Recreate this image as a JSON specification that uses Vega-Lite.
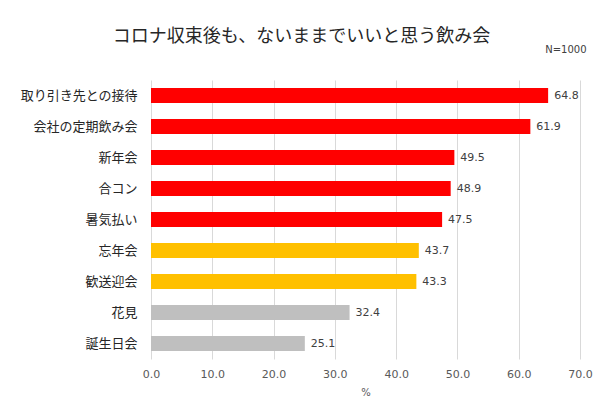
{
  "$schema": "https://vega.github.io/schema/vega-lite/v6.json",
  "autosize": {"type": "none"},
  "width": 429,
  "height": 279,
  "padding": {"left": 151, "top": 80, "right": 20, "bottom": 60},
  "background": "#FFFFFF",
  "title": {
    "text": "コロナ収束後も、ないままでいいと思う飲み会",
    "font": "Noto Sans CJK JP",
    "fontSize": 18,
    "fontWeight": "normal",
    "color": "#262626",
    "anchor": "middle",
    "frame": "group",
    "dx": -64,
    "offset": -2
  },
  "config": {
    "view": {"stroke": "transparent"},
    "axis": {"labelFont": "DejaVu Sans", "titleFont": "DejaVu Sans"}
  },
  "data": {
    "values": [
      {"item": "取り引き先との接待", "pct": 64.8, "group": "高"},
      {"item": "会社の定期飲み会", "pct": 61.9, "group": "高"},
      {"item": "新年会", "pct": 49.5, "group": "高"},
      {"item": "合コン", "pct": 48.9, "group": "高"},
      {"item": "暑気払い", "pct": 47.5, "group": "高"},
      {"item": "忘年会", "pct": 43.7, "group": "中"},
      {"item": "歓送迎会", "pct": 43.3, "group": "中"},
      {"item": "花見", "pct": 32.4, "group": "低"},
      {"item": "誕生日会", "pct": 25.1, "group": "低"}
    ]
  },
  "encoding": {
    "y": {
      "field": "item",
      "type": "nominal",
      "sort": null,
      "scale": {"paddingInner": 0.52, "paddingOuter": 0.26},
      "axis": {
        "title": null,
        "domain": false,
        "ticks": false,
        "labelFont": "Noto Sans CJK JP",
        "labelFontSize": 13,
        "labelColor": "#262626",
        "labelPadding": 14
      }
    }
  },
  "layer": [
    {
      "mark": {"type": "bar"},
      "encoding": {
        "x": {
          "field": "pct",
          "type": "quantitative",
          "scale": {"domain": [0, 70]},
          "axis": {
            "title": "%",
            "values": [0, 10, 20, 30, 40, 50, 60, 70],
            "format": ".1f",
            "labelFlush": false,
            "domain": false,
            "ticks": false,
            "gridColor": "#D9D9D9",
            "labelFontSize": 11,
            "labelColor": "#595959",
            "labelPadding": 9,
            "titleFontSize": 10,
            "titleFontWeight": "normal",
            "titleColor": "#595959",
            "titlePadding": 8
          }
        },
        "color": {
          "field": "group",
          "type": "nominal",
          "scale": {"domain": ["高", "中", "低"], "range": ["#FF0000", "#FFC000", "#BFBFBF"]},
          "legend": null
        }
      }
    },
    {
      "mark": {"type": "text", "align": "left", "baseline": "middle", "dx": 6, "font": "DejaVu Sans", "fontSize": 11, "color": "#404040"},
      "encoding": {
        "x": {
          "field": "pct",
          "type": "quantitative",
          "axis": {
            "orient": "top",
            "title": "N=1000",
            "titleX": 435,
            "titleAlign": "right",
            "titleFontSize": 10,
            "titleFontWeight": "normal",
            "titleColor": "#404040",
            "titlePadding": 26,
            "labels": false,
            "ticks": false,
            "domain": false,
            "grid": false
          }
        },
        "text": {"field": "pct", "type": "quantitative", "format": ".1f"}
      }
    }
  ],
  "resolve": {"axis": {"x": "independent"}}
}
